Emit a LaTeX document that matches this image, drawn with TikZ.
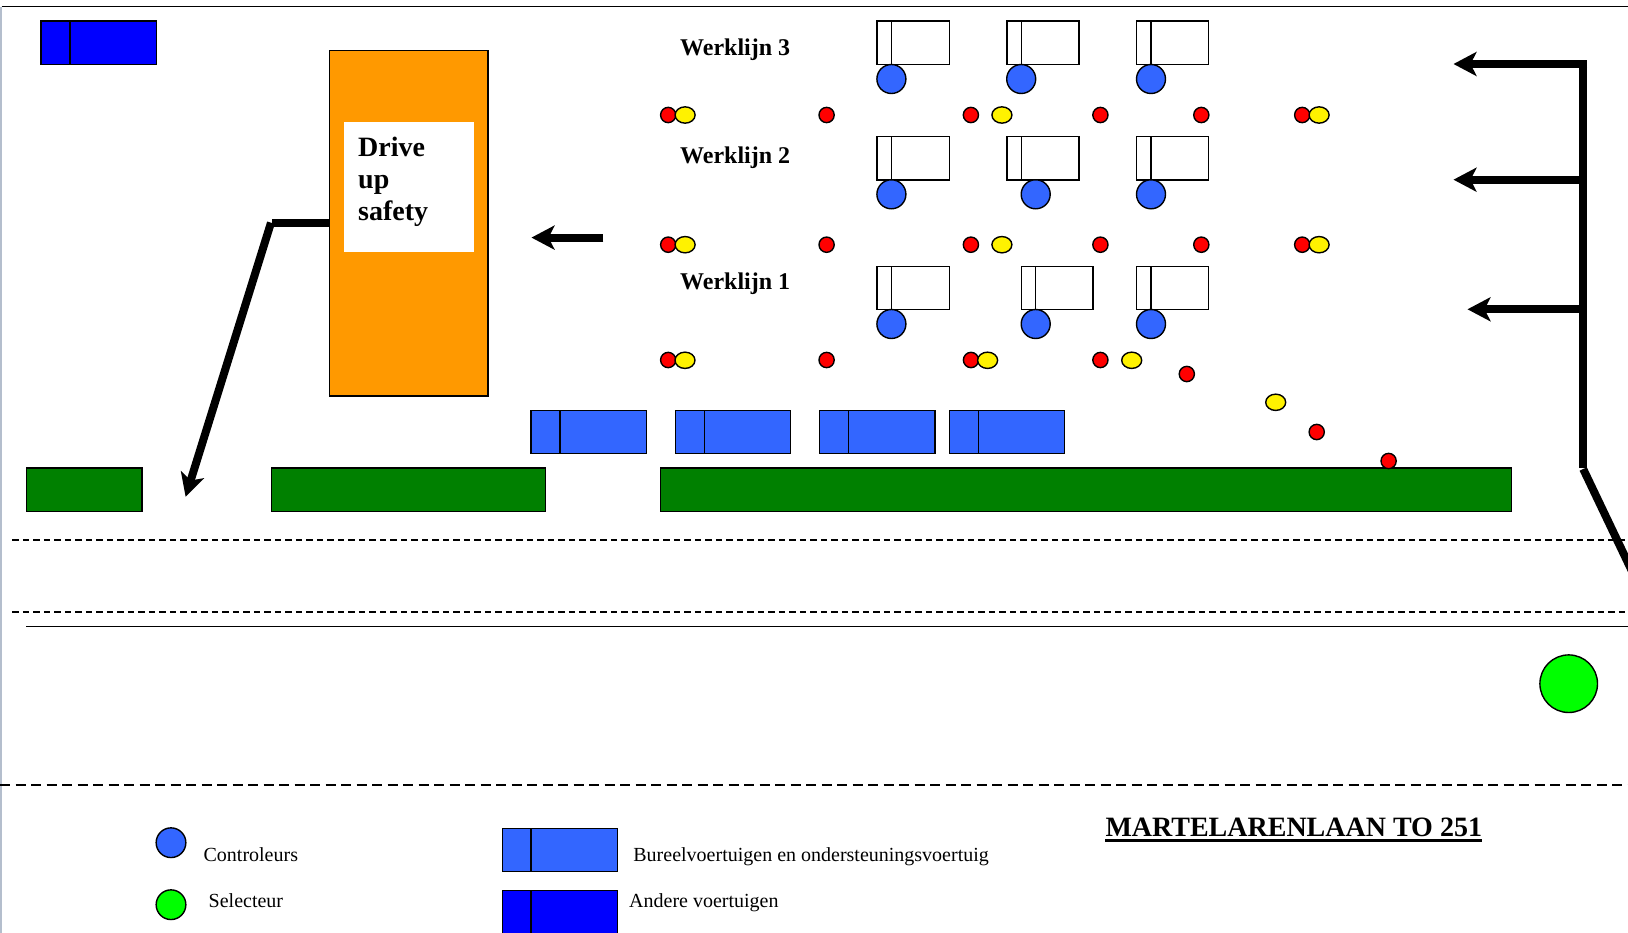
\documentclass[tikz,border=0pt]{standalone}
\usepackage{fontspec}
\setmainfont{Liberation Serif}
\usetikzlibrary{arrows.meta,shapes.geometric}
\definecolor{ctrl}{HTML}{3366FF}
\definecolor{other}{HTML}{0000FF}
\definecolor{hedge}{HTML}{008000}
\definecolor{drive}{HTML}{FF9900}
\definecolor{sel}{HTML}{00FF00}
\definecolor{edgegrey}{HTML}{B4BECD}
\tikzset{
  outline/.style={draw=black,line width=1.4pt},
  box/.style={outline,fill=#1},
  reddot/.style={ellipse,outline,fill=red,inner sep=0pt,minimum width=15.2pt,minimum height=15.3pt},
  yellowdot/.style={ellipse,outline,fill=yellow,inner sep=0pt,minimum width=20pt,minimum height=16.3pt},
  ctrldot/.style={circle,outline,fill=ctrl,inner sep=0pt,minimum size=29pt},
  thick line/.style={draw=black,line width=8pt},
  flow/.style={thick line,-{Stealth[length=23pt,width=24pt,inset=6pt]}},
  lbl/.style={inner sep=0pt,anchor=base west,font=\fontsize{20}{24}\selectfont},
  wlbl/.style={inner sep=0pt,anchor=base west,font=\fontsize{24}{28}\bfseries\selectfont},
  road/.style={draw=black,line width=1.2pt},
}
% vehicle: x1,y1,xdiv,x2,y2,fill
\newcommand{\veh}[6]{\draw[box=#6] (#1,#2) rectangle (#4,#5); \draw[outline] (#3,#2) -- (#3,#5);}
\begin{document}
\begin{tikzpicture}[x=1pt,y=-1pt]
\useasboundingbox (0,0) rectangle (1628,933);
\clip (0,0) rectangle (1628,933);
\fill[edgegrey] (0,7) rectangle (1.6,933);
\draw[road] (1.6,6.9) -- (1628,6.9);
% roads
\draw[road,dash pattern=on 6.5pt off 4pt] (12.4,540) -- (1628,540);
\draw[road,dash pattern=on 6.5pt off 4pt] (12.4,612) -- (1628,612);
\draw[road] (26,626.7) -- (1628,626.7);
\draw[road,line width=1.4pt,dash pattern=on 10pt off 5.5pt] (0,785) -- (1628,785);
% hedges
\draw[box=hedge] (26.5,468) rectangle (142,511.3);
\draw[box=hedge] (271.7,468) rectangle (545.5,511.3);
\draw[box=hedge] (660.7,468) rectangle (1511.2,511.3);
% top-left vehicle
\veh{41}{21}{70}{156.7}{64.7}{other}
% drive up safety
\node[box=drive,inner sep=0pt,minimum width=158.6pt,minimum height=345.6pt] (orange) at (408.7,223.2) {};
\fill[white] (344,122) rectangle (473.8,251.7);
\node[inner sep=0pt,anchor=base west,font=\fontsize{28}{32}\bfseries\selectfont] (d1) at (358,156.6) {Drive};
\node[inner sep=0pt,anchor=base west,font=\fontsize{28}{32}\bfseries\selectfont] (d2) at (358,188.8) {up};
\node[inner sep=0pt,anchor=base west,font=\fontsize{28}{32}\bfseries\selectfont] (d3) at (358,220.8) {safety};
% left connector
\coordinate (bend) at (272,222.7);
\coordinate (lefttip) at (185.6,496.7);
\draw[thick line] (orange.west |- bend) -- (bend);
\draw[flow] (271,222.7) -- (lefttip);
% middle arrow
\coordinate (ms) at (603.3,237.6);
\coordinate (mt) at (531.5,237.6);
\draw[flow] (ms) -- (mt);
% right connectors
\coordinate (rtop) at (1583.2,64);
\coordinate (rmid) at (1583.2,179.7);
\coordinate (rlow) at (1583.2,309.3);
\coordinate (rbot) at (1583.2,467.5);
\coordinate (rstart) at (1583.2,469);
\coordinate (rout) at (1640,588);
\coordinate (t3) at (1453.5,64);
\coordinate (t2) at (1453.5,179.7);
\coordinate (t1) at (1467.5,309.3);
\draw[thick line] (rtop) -- (rbot);
\draw[flow] ([xshift=4pt]rtop) -- (t3);
\draw[flow] (rmid) -- (t2);
\draw[flow] (rlow) -- (t1);
\draw[thick line] (rstart) -- (rout);
% work lines
\node[wlbl] (w3) at (680,55.6) {Werklijn 3};
\node[wlbl] (w2) at (680,163.6) {Werklijn 2};
\node[wlbl] (w1) at (680,289.6) {Werklijn 1};
\foreach \y/\z in {21/64.7,136.3/180}{
  \veh{877}{\y}{891.4}{949.2}{\z}{white}
  \veh{1007}{\y}{1021.2}{1079}{\z}{white}
  \veh{1136.6}{\y}{1151}{1208.6}{\z}{white}
}
\veh{877}{266.3}{891.4}{949.2}{309.3}{white}
\veh{1021.2}{266.3}{1035.7}{1093}{309.3}{white}
\veh{1136.6}{266.3}{1151}{1208.6}{309.3}{white}
\node[ctrldot] (c31) at (891.4,79) {};
\node[ctrldot] (c32) at (1021.2,79) {};
\node[ctrldot] (c33) at (1151,79) {};
\node[ctrldot] (c21) at (891.4,194.3) {};
\node[ctrldot] (c22) at (1035.7,194.3) {};
\node[ctrldot] (c23) at (1151,194.3) {};
\node[ctrldot] (c11) at (891.4,324) {};
\node[ctrldot] (c12) at (1035.7,324) {};
\node[ctrldot] (c13) at (1151,324) {};
% cones
\foreach \y/\n in {115/a,244.7/b}{
  \foreach \x/\m in {668.2/1,826.6/2,970.9/3,1100.4/4,1201.3/5,1302.2/6}
    \node[reddot] (r\n\m) at (\x,\y) {};
  \foreach \x/\m in {685.1/1,1001.9/2,1319.1/3}
    \node[yellowdot] (y\n\m) at (\x,\y) {};
}
\foreach \x/\m in {668.2/1,826.6/2,971/3,1100.4/4}
  \node[reddot] (rc\m) at (\x,360) {};
\foreach \x/\m in {685/1,987.6/2,1131.7/3}
  \node[yellowdot] (yc\m) at (\x,360.3) {};
\node[reddot] (rd1) at (1186.8,374) {};
\node[yellowdot] (yd1) at (1275.7,402.3) {};
\node[reddot] (rd2) at (1316.7,432) {};
\node[reddot] (rd3) at (1388.6,461) {};
% vehicles row
\veh{531}{410.4}{560}{646.6}{453.7}{ctrl}
\veh{675.2}{410.4}{704.4}{790.6}{453.7}{ctrl}
\veh{819.5}{410.4}{848.3}{934.8}{453.7}{ctrl}
\veh{949.2}{410.4}{978.4}{1064.6}{453.7}{ctrl}
% selector
\node[circle,outline,fill=sel,inner sep=0pt,minimum size=57.6pt] (selector) at (1568.7,683.7) {};
% legend
\node[ctrldot,minimum size=29.7pt] (lc) at (171,842.7) {};
\node[circle,outline,fill=sel,inner sep=0pt,minimum size=29.7pt] (ls) at (171,904.7) {};
\node[lbl] (lt1) at (203.4,861) {Controleurs};
\node[lbl] (lt2) at (208.5,907) {Selecteur};
\veh{502.4}{828.3}{531}{617.7}{871.7}{ctrl}
\veh{502.4}{890.6}{531}{617.7}{940}{other}
\node[lbl] (lt3) at (633.2,861) {Bureelvoertuigen en ondersteuningsvoertuig};
\node[lbl] (lt4) at (629,907) {Andere voertuigen};
\node[inner sep=0pt,anchor=base west,font=\fontsize{28}{32}\bfseries\selectfont] (title) at (1105.3,836) {MARTELARENLAAN TO 251};
\draw[black,line width=2.4pt] ([yshift=-4.4pt]title.base west) -- ([yshift=-4.4pt]title.base east);
\end{tikzpicture}
\end{document}
